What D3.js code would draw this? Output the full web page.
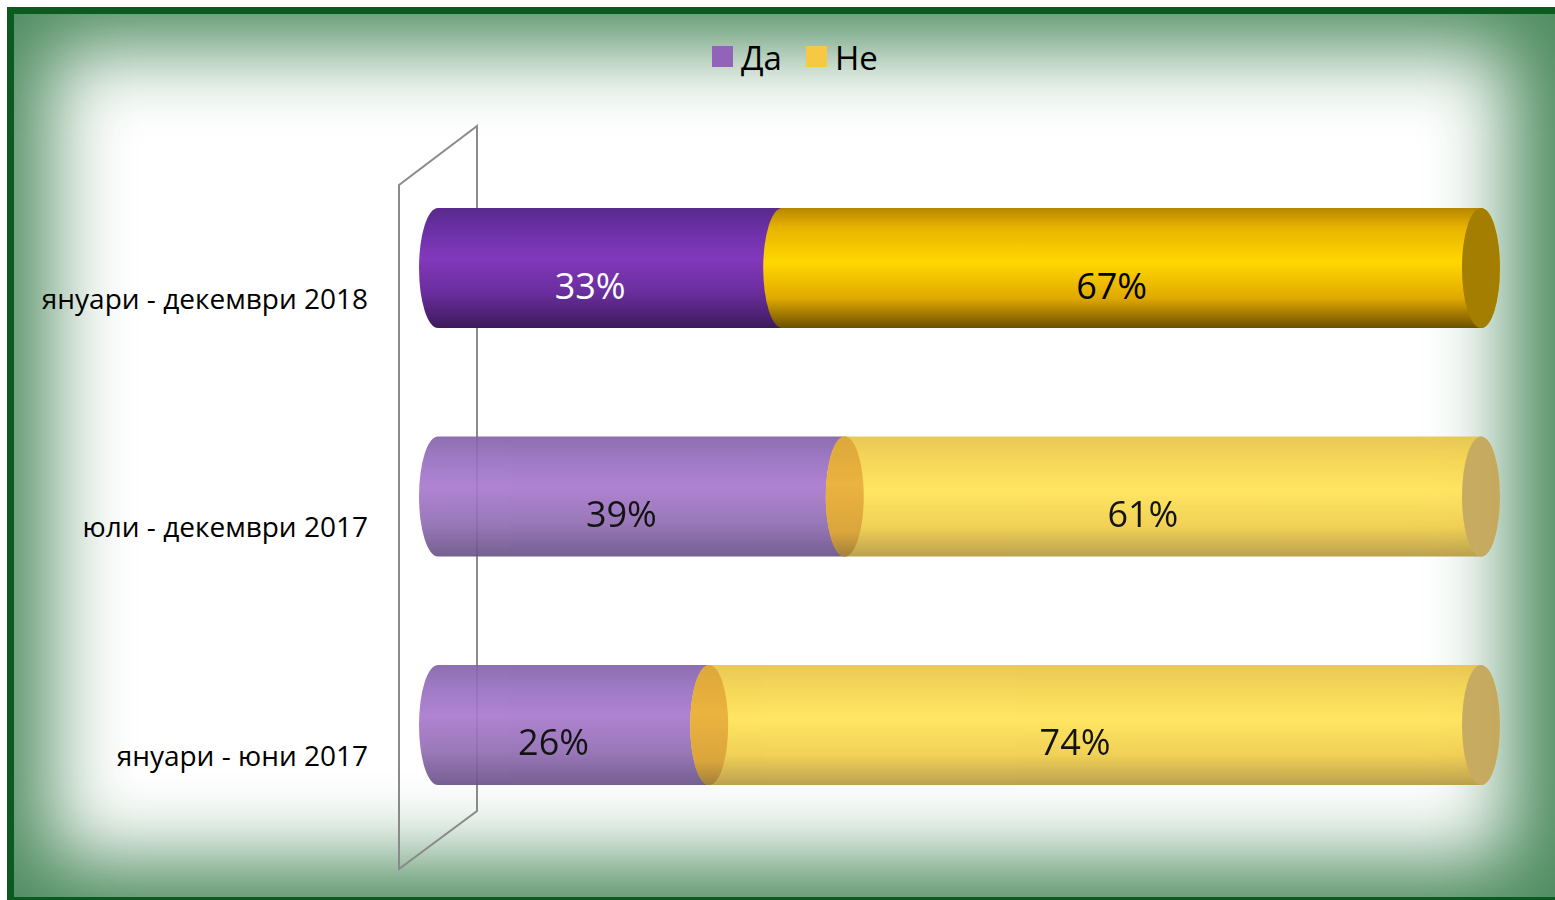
<!DOCTYPE html>
<html>
<head>
<meta charset="utf-8">
<script src="https://cdn.jsdelivr.net/npm/d3@7"></script>
<style>
  html, body { margin: 0; padding: 0; background: #ffffff; }
  svg { display: block; }
  text { font-family: "Open Sans", "Noto Sans", sans-serif; }
</style>
</head>
<body>
<svg id="chart" width="1555" height="900"></svg>
<script>
// Survey periods (top to bottom) and the share of answers per period
const categories = ["януари - декември 2018", "юли - декември 2017", "януари - юни 2017"];
const seriesNames = ["Да", "Не"];
const yesValues = [33, 39, 26];
const noValues = [67, 61, 74];
const legendColors = ["#9263b8", "#f7c843"];

const W = 1555, H = 900;
const svg = d3.select("#chart");
const defs = svg.append("defs");

// ---- frame with a soft green inner glow ----
const glow = defs.append("filter").attr("id", "soft")
  .attr("x", "-20%").attr("y", "-20%").attr("width", "140%").attr("height", "140%");
glow.append("feGaussianBlur").attr("stdDeviation", 40);

defs.append("clipPath").attr("id", "frameClip")
  .append("rect").attr("x", 14).attr("y", 14).attr("width", W - 14).attr("height", 883);

const bg = svg.append("g").attr("clip-path", "url(#frameClip)");
bg.append("rect").attr("x", 14).attr("y", 14).attr("width", W - 14).attr("height", 883)
  .attr("fill", "#4f8c60");
bg.append("rect").attr("x", 50).attr("y", 48).attr("width", W - 96).attr("height", 812)
  .attr("fill", "#ffffff").attr("filter", "url(#soft)");

// dark green border (top and left, thin strip along the bottom)
svg.append("rect").attr("x", 7).attr("y", 7).attr("width", W - 7).attr("height", 7).attr("fill", "#0b5a1f");
svg.append("rect").attr("x", 7).attr("y", 7).attr("width", 7).attr("height", H - 7).attr("fill", "#0b5a1f");
svg.append("rect").attr("x", 7).attr("y", 897).attr("width", W - 7).attr("height", 3).attr("fill", "#0b5a1f");

// ---- scales ----
const x = d3.scaleLinear().domain([0, 100]).range([438, 1481]);
const y = d3.scaleBand().domain(categories).range([99.5, 893.5])
  .paddingInner(0.475).paddingOuter(0.475);
const rx = 19;

// ---- back wall of the category axis ----
svg.append("path")
  .attr("d", "M 399 185 L 477 126 L 477 811 L 399 869 Z")
  .attr("fill", "none").attr("stroke", "#8a8a8a").attr("stroke-width", 2);

// ---- gradients ----
function vGrad(id, stops) {
  const g = defs.append("linearGradient").attr("id", id)
    .attr("x1", 0).attr("y1", 0).attr("x2", 0).attr("y2", 1);
  stops.forEach(([o, c]) => g.append("stop").attr("offset", o).attr("stop-color", c));
}
// highlighted period (first row)
vGrad("purpleHi", [[0, "#592a8c"], [0.18, "#6b30a6"], [0.42, "#8238bb"], [0.7, "#6a2e9e"], [1, "#3d1a5c"]]);
vGrad("yellowHi", [[0, "#b58700"], [0.16, "#e8b200"], [0.45, "#ffd800"], [0.75, "#e1a900"], [1, "#6b5000"]]);
// other periods
vGrad("purpleLo", [[0, "#8462a8"], [0.18, "#966ec0"], [0.42, "#a979ce"], [0.72, "#916db3"], [1, "#6a5288"]]);
vGrad("yellowLo", [[0, "#e7c449"], [0.18, "#f5d24a"], [0.45, "#ffe455"], [0.75, "#f0cd48"], [1, "#b79a42"]]);
vGrad("joinLo", [[0, "#d9a12a"], [0.4, "#eaad2f"], [0.8, "#d79e2c"], [1, "#9b762b"]]);

// cylinder body from ellipse centre xa to ellipse centre xb
function body(xa, xb, top, h) {
  const ry = h / 2, bot = top + h;
  return `M ${xa} ${top} L ${xb} ${top} A ${rx} ${ry} 0 0 1 ${xb} ${bot} ` +
         `L ${xa} ${bot} A ${rx} ${ry} 0 0 1 ${xa} ${top} Z`;
}

const rows = categories.map((c, i) => ({ cat: c, yes: yesValues[i], no: noValues[i], hi: i === 0 }));

const bars = svg.append("g").selectAll("g.bar").data(rows).join("g")
  .attr("class", "bar")
  .attr("opacity", d => d.hi ? 1 : 0.92);

const h = y.bandwidth();

bars.append("path")
  .attr("d", d => body(x(0), x(d.yes), y(d.cat), h))
  .attr("fill", d => d.hi ? "url(#purpleHi)" : "url(#purpleLo)");

bars.append("path")
  .attr("d", d => body(x(d.yes), x(d.yes + d.no), y(d.cat), h))
  .attr("fill", d => d.hi ? "url(#yellowHi)" : "url(#yellowLo)");

// visible end face where the two segments meet (other periods only)
bars.filter(d => !d.hi).append("ellipse")
  .attr("cx", d => x(d.yes)).attr("cy", d => y(d.cat) + h / 2)
  .attr("rx", rx).attr("ry", h / 2)
  .attr("fill", "url(#joinLo)");

// right end face of each cylinder
bars.append("ellipse")
  .attr("cx", d => x(d.yes + d.no)).attr("cy", d => y(d.cat) + h / 2)
  .attr("rx", rx).attr("ry", h / 2)
  .attr("fill", d => d.hi ? "#a37e00" : "#c5a656");

// value labels
const labelShift = -20;
bars.append("text")
  .attr("x", d => (x(0) + x(d.yes)) / 2 + labelShift)
  .attr("y", d => y(d.cat) + h / 2 + 17)
  .attr("text-anchor", "middle").attr("dominant-baseline", "central")
  .attr("font-size", 36)
  .attr("fill", d => d.hi ? "#ffffff" : "#000000")
  .text(d => d.yes + "%");
bars.append("text")
  .attr("x", d => (x(d.yes) + x(d.yes + d.no)) / 2 + labelShift)
  .attr("y", d => y(d.cat) + h / 2 + 17)
  .attr("text-anchor", "middle").attr("dominant-baseline", "central")
  .attr("font-size", 36)
  .attr("fill", "#000000")
  .text(d => d.no + "%");

// ---- category axis labels ----
const axis = d3.axisLeft(y).tickSize(0).tickPadding(0);
const axisG = svg.append("g").attr("transform", "translate(368, 31)").call(axis);
axisG.select(".domain").remove();
axisG.selectAll("text")
  .attr("font-size", 28).attr("fill", "#000000")
  .attr("font-family", "'Open Sans', 'Noto Sans', sans-serif")
  .attr("dy", "0.35em");

// ---- legend ----
const legendX = [712, 806];
const legend = svg.append("g").selectAll("g").data(seriesNames).join("g")
  .attr("transform", (d, i) => `translate(${legendX[i]}, 46)`);
legend.append("rect").attr("width", 21).attr("height", 21)
  .attr("fill", (d, i) => legendColors[i]);
legend.append("text").attr("x", 29).attr("y", 11)
  .attr("dominant-baseline", "central")
  .attr("font-size", 33).attr("fill", "#000000")
  .text(d => d);
</script>
</body>
</html>
